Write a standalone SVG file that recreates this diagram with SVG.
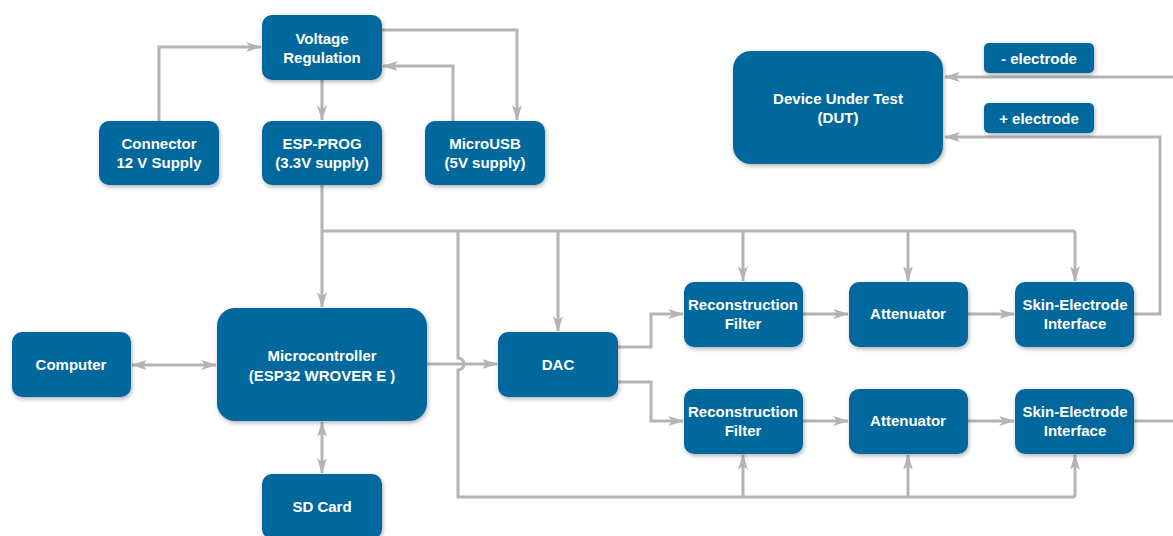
<svg xmlns="http://www.w3.org/2000/svg" width="1173" height="536" viewBox="0 0 1173 536">
<style>
.box{fill:#05679c;filter:url(#sh)}
.t{font-family:"Liberation Sans",Arial,sans-serif;font-weight:bold;font-size:15px;fill:#fff;text-anchor:middle}
.c{fill:none;stroke:#b4b4b4;stroke-width:3}
.a{marker-end:url(#ah)}
.b{marker-start:url(#ahs);marker-end:url(#ah)}
</style>
<defs>
<filter id="sh" x="-10%" y="-10%" width="130%" height="140%"><feDropShadow dx="1" dy="2" stdDeviation="2" flood-color="#000" flood-opacity="0.3"/></filter>
<marker id="ah" viewBox="0 0 16 10" refX="15" refY="5" markerWidth="5.3" markerHeight="3.3" orient="auto" markerUnits="strokeWidth"><path d="M0,0 L16,5 L0,10 L4,5 z" fill="#b4b4b4"/></marker>
<marker id="ahs" viewBox="0 0 16 10" refX="1" refY="5" markerWidth="5.3" markerHeight="3.3" orient="auto" markerUnits="strokeWidth"><path d="M16,0 L0,5 L16,10 L12,5 z" fill="#b4b4b4"/></marker>
</defs>
<g id="connectors">
<path class="c a" d="M159,121 V47 H261"/>
<path class="c a" d="M322,80 V120"/>
<path class="c a" d="M382,30 H517 V120"/>
<path class="c a" d="M453,121 V66 H383"/>
<path class="c a" d="M322,185 V307"/>
<path class="c" d="M322,231 H1075"/>
<path class="c" d="M458,231 V358 A6,6 0 0 1 458,370 V497 H1075"/>
<path class="c a" d="M558,231 V331"/>
<path class="c a" d="M743,231 V281"/>
<path class="c a" d="M908,231 V281"/>
<path class="c a" d="M1075,231 V281"/>
<path class="c a" d="M743,497 V455"/>
<path class="c a" d="M908,497 V455"/>
<path class="c a" d="M1075,497 V455"/>
<path class="c b" d="M132,365 H216"/>
<path class="c b" d="M322,422 V473"/>
<path class="c a" d="M427,364 H497"/>
<path class="c a" d="M618,347 H651 V314 H683"/>
<path class="c a" d="M618,382 H651 V421 H683"/>
<path class="c a" d="M803,314 H848"/>
<path class="c a" d="M968,314 H1014"/>
<path class="c a" d="M803,421 H848"/>
<path class="c a" d="M968,421 H1014"/>
<path class="c a" d="M1134,314 H1160 V137 H945"/>
<path class="c a" d="M1173,77 H945"/>
<path class="c" d="M1134,421 H1173"/>
</g>
<g id="vreg"><rect class="box" x="262" y="15" width="120" height="65" rx="10"/><text class="t" x="322" y="44">Voltage</text><text class="t" x="322" y="63">Regulation</text></g>
<g id="connector12v"><rect class="box" x="99" y="121" width="120" height="64" rx="10"/><text class="t" x="159" y="149">Connector</text><text class="t" x="159" y="168">12 V Supply</text></g>
<g id="espprog"><rect class="box" x="262" y="121" width="120" height="64" rx="10"/><text class="t" x="322" y="149">ESP-PROG</text><text class="t" x="322" y="168">(3.3V supply)</text></g>
<g id="microusb"><rect class="box" x="425" y="121" width="120" height="64" rx="10"/><text class="t" x="485" y="149">MicroUSB</text><text class="t" x="485" y="168">(5V supply)</text></g>
<g id="dut"><rect class="box" x="733" y="51" width="210" height="113" rx="18"/><text class="t" x="838" y="104">Device Under Test</text><text class="t" x="838" y="123">(DUT)</text></g>
<g id="neg-electrode"><rect class="box" x="984" y="43" width="110" height="30" rx="5"/><text class="t" x="1039" y="64">- electrode</text></g>
<g id="pos-electrode"><rect class="box" x="984" y="103" width="110" height="30" rx="5"/><text class="t" x="1039" y="124">+ electrode</text></g>
<g id="computer"><rect class="box" x="12" y="332" width="119" height="65" rx="10"/><text class="t" x="71" y="370">Computer</text></g>
<g id="mcu"><rect class="box" x="217" y="308" width="210" height="113" rx="18"/><text class="t" x="322" y="361">Microcontroller</text><text class="t" x="322" y="381">(ESP32 WROVER E )</text></g>
<g id="sdcard"><rect class="box" x="262" y="474" width="120" height="65" rx="10"/><text class="t" x="322" y="512">SD Card</text></g>
<g id="dac"><rect class="box" x="498" y="332" width="120" height="65" rx="10"/><text class="t" x="558" y="370">DAC</text></g>
<g id="recon1"><rect class="box" x="684" y="282" width="119" height="65" rx="10"/><text class="t" x="743" y="310">Reconstruction</text><text class="t" x="743" y="329">Filter</text></g>
<g id="atten1"><rect class="box" x="849" y="282" width="119" height="65" rx="10"/><text class="t" x="908" y="319">Attenuator</text></g>
<g id="skin1"><rect class="box" x="1015" y="282" width="119" height="65" rx="10"/><text class="t" x="1075" y="310">Skin-Electrode</text><text class="t" x="1075" y="329">Interface</text></g>
<g id="recon2"><rect class="box" x="684" y="389" width="119" height="65" rx="10"/><text class="t" x="743" y="417">Reconstruction</text><text class="t" x="743" y="436">Filter</text></g>
<g id="atten2"><rect class="box" x="849" y="389" width="119" height="65" rx="10"/><text class="t" x="908" y="426">Attenuator</text></g>
<g id="skin2"><rect class="box" x="1015" y="389" width="119" height="65" rx="10"/><text class="t" x="1075" y="417">Skin-Electrode</text><text class="t" x="1075" y="436">Interface</text></g>
</svg>
